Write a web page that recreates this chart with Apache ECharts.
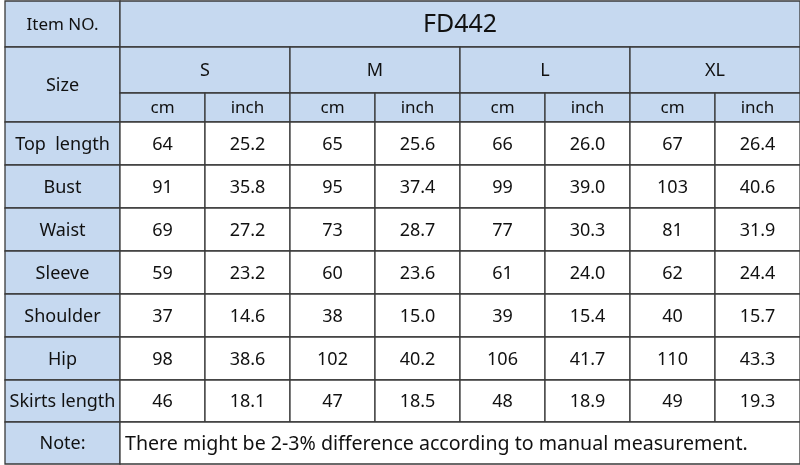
<!DOCTYPE html>
<html><head><meta charset="utf-8">
<script src="https://cdn.jsdelivr.net/npm/echarts@6/dist/echarts.min.js"></script>
<style>html,body{margin:0;padding:0;background:#fff}#c{width:800px;height:465px}</style>
</head><body><div id="c"></div>
<script>
const itemNo = "FD442";
const sizes = ["S","M","L","XL"];
const units = ["cm","inch"];
const measures = ["Top  length","Bust","Waist","Sleeve","Shoulder","Hip","Skirts length"];
const values = [
 ["64","25.2","65","25.6","66","26.0","67","26.4"],
 ["91","35.8","95","37.4","99","39.0","103","40.6"],
 ["69","27.2","73","28.7","77","30.3","81","31.9"],
 ["59","23.2","60","23.6","61","24.0","62","24.4"],
 ["37","14.6","38","15.0","39","15.4","40","15.7"],
 ["98","38.6","102","40.2","106","41.7","110","43.3"],
 ["46","18.1","47","18.5","48","18.9","49","19.3"]
];
const note = "There might be 2-3% difference according to manual measurement.";

const colX = [5,120,205,290,375,460,545,630,715,800];
const rowY = [1,47,93,122,165,208,251,294,337,380,422,464];
const BLUE = "#c6d9f0", WHITE = "#ffffff";
const cells = [];
function cell(c0,c1,r0,r1,text,fill,size,align){cells.push([colX[c0],rowY[r0],colX[c1],rowY[r1],text,fill,size||18,align||'center']);}
cell(0,1,0,1,"Item NO.",BLUE,17);
cell(1,9,0,1,itemNo,BLUE,25);
cell(0,1,1,3,"Size",BLUE,18);
sizes.forEach((s,i)=>{cell(1+2*i,3+2*i,1,2,s,BLUE,18);
 units.forEach((u,j)=>cell(1+2*i+j,2+2*i+j,2,3,u,BLUE,17));});
measures.forEach((m,r)=>{cell(0,1,3+r,4+r,m,BLUE,18);
 values[r].forEach((v,k)=>cell(1+k,2+k,3+r,4+r,v,WHITE,18));});
cell(0,1,10,11,"Note:",BLUE,18);
cell(1,9,10,11,note,WHITE,19.6,'left');

const chart = echarts.init(document.getElementById('c'));
chart.setOption({
 animation:false,
 grid:{left:0,right:0,top:0,bottom:0},
 xAxis:{type:'value',min:0,max:800,show:false},
 yAxis:{type:'value',min:0,max:465,inverse:true,show:false},
 series:[{type:'custom',data:cells,renderItem:(p,api)=>{
   const d=cells[p.dataIndex];
   const a=api.coord([d[0],d[1]]), b=api.coord([d[2],d[3]]);
   const w=b[0]-a[0], h=b[1]-a[1];
   return {type:'group',children:[
     {type:'rect',shape:{x:a[0],y:a[1],width:w,height:h},style:{fill:d[5],stroke:'#3a3a3a',lineWidth:1.3}},
     {type:'text',style:{text:d[4],x:d[7]==='left'?a[0]+5:a[0]+w/2,y:a[1]+h/2+1,align:d[7],verticalAlign:'middle',
       font:d[6]+'px "Noto Sans", sans-serif',fill:'#111'}}
   ]};
 }}]
});
</script></body></html>
